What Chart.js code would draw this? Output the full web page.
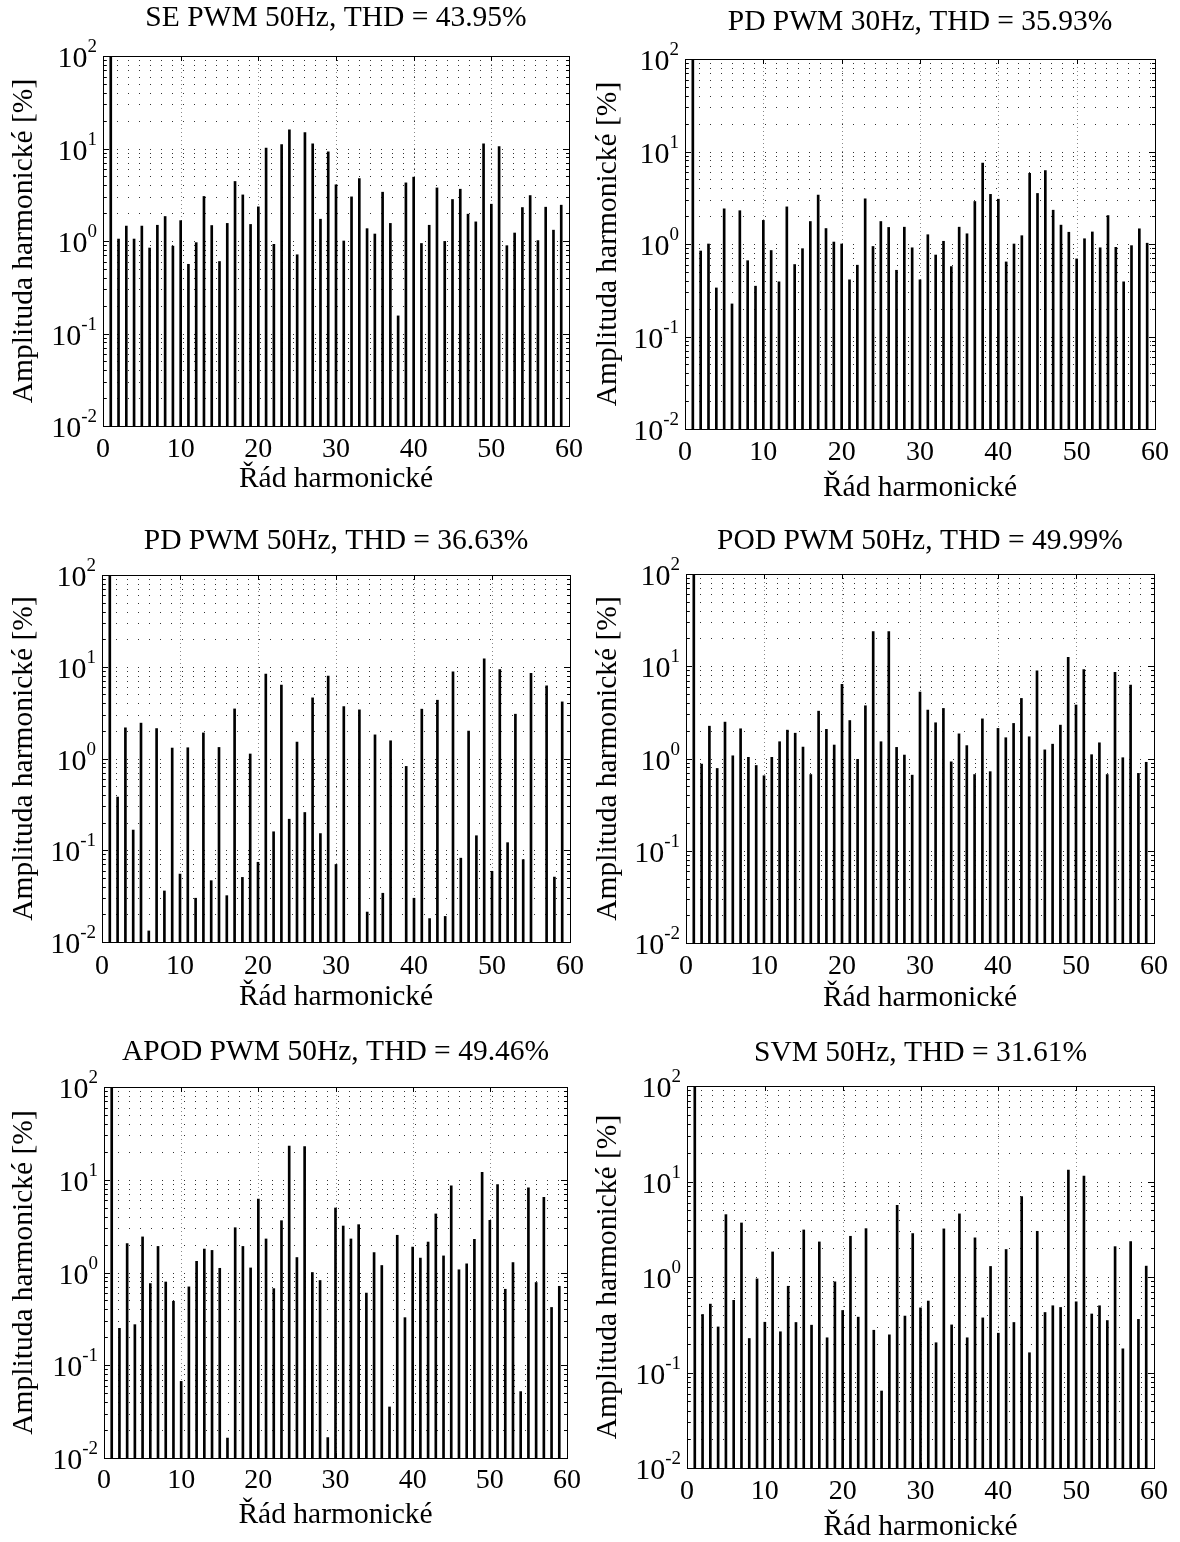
<!DOCTYPE html>
<html>
<head>
<meta charset="utf-8">
<title>Spektrum harmonických</title>
<script src="https://cdn.jsdelivr.net/npm/chart.js@4.4.0/dist/chart.umd.min.js"></script>
<style>
  html, body { margin: 0; padding: 0; background: #fff; }
  #page { position: relative; width: 1180px; height: 1542px; overflow: hidden; }
  .cell { position: absolute; width: 590px; height: 514px; }
  .cell canvas { display: block; }
</style>
</head>
<body>
<div id="page">
  <div class="cell" style="left:0;top:0"><canvas id="c0" width="590" height="514"></canvas></div>
  <div class="cell" style="left:590px;top:0"><canvas id="c1" width="590" height="514"></canvas></div>
  <div class="cell" style="left:0;top:514px"><canvas id="c2" width="590" height="514"></canvas></div>
  <div class="cell" style="left:590px;top:514px"><canvas id="c3" width="590" height="514"></canvas></div>
  <div class="cell" style="left:0;top:1028px"><canvas id="c4" width="590" height="514"></canvas></div>
  <div class="cell" style="left:590px;top:1028px"><canvas id="c5" width="590" height="514"></canvas></div>
</div>
<script>
// Harmonic orders (1 = fundamental)
const harmonics = [
  1, 2, 3, 4, 5, 6, 7, 8, 9, 10,
  11, 12, 13, 14, 15, 16, 17, 18, 19, 20,
  21, 22, 23, 24, 25, 26, 27, 28, 29, 30,
  31, 32, 33, 34, 35, 36, 37, 38, 39, 40,
  41, 42, 43, 44, 45, 46, 47, 48, 49, 50,
  51, 52, 53, 54, 55, 56, 57, 58, 59
];

// Harmonic amplitudes in % of the fundamental
const sePwm50 = [
  100, 1.05, 1.45, 1.05, 1.45, 0.84, 1.48, 1.84, 0.88, 1.66,
  0.56, 0.96, 3.03, 1.47, 0.60, 1.55, 4.4, 3.15, 1.51, 2.34,
  10.1, 0.92, 11.0, 15.9, 0.71, 14.9, 11.2, 1.72, 9.2, 4.05,
  1.0, 3.0, 4.73, 1.36, 1.19, 3.37, 1.55, 0.155, 4.25, 4.9,
  0.94, 1.48, 3.75, 0.99, 2.81, 3.63, 1.95, 1.61, 11.2, 2.5,
  10.5, 0.89, 1.22, 2.3, 3.1, 1.01, 2.32, 1.31, 2.44
];
const pdPwm30 = [
  100, 0.84, 1.0, 0.335, 2.4, 0.225, 2.29, 0.66, 0.35, 1.8,
  0.85, 0.39, 2.52, 0.60, 0.89, 1.75, 3.38, 1.47, 1.05, 1.0,
  0.41, 0.59, 3.08, 0.94, 1.75, 1.51, 0.52, 1.52, 0.91, 0.41,
  1.26, 0.76, 1.07, 0.57, 1.52, 1.29, 2.88, 7.5, 3.44, 3.05,
  0.64, 1.0, 1.23, 5.8, 3.52, 6.2, 2.32, 1.6, 1.34, 0.69,
  1.14, 1.35, 0.91, 2.03, 0.92, 0.39, 0.96, 1.46, 1.02
];
const pdPwm50 = [
  100, 0.38, 2.16, 0.166, 2.43, 0.0132, 2.12, 0.036, 1.30, 0.055,
  1.31, 0.030, 1.90, 0.0466, 1.32, 0.032, 3.47, 0.0506, 1.12, 0.074,
  8.3, 0.159, 6.3, 0.218, 1.51, 0.258, 4.58, 0.152, 7.9, 0.070,
  3.68, null, 3.39, 0.0212, 1.81, 0.034, 1.56, null, 0.82, 0.030,
  3.45, 0.018, 4.32, 0.019, 8.8, 0.082, 1.99, 0.144, 12.2, 0.059,
  9.3, 0.121, 3.04, 0.079, 8.5, null, 6.2, 0.051, 4.14
];
const podPwm50 = [
  100, 0.87, 2.24, 0.78, 2.48, 1.07, 2.1, 1.03, 0.84, 0.65,
  1.03, 1.52, 2.03, 1.88, 1.33, 0.67, 3.26, 2.07, 1.4, 6.35,
  2.58, 0.98, 3.73, 23.7, 1.52, 23.7, 1.32, 1.09, 0.66, 5.25,
  3.35, 2.44, 3.49, 0.92, 1.85, 1.38, 0.67, 2.69, 0.72, 2.12,
  1.68, 2.4, 4.48, 1.72, 8.9, 1.24, 1.43, 2.3, 12.5, 3.8,
  9.2, 1.1, 1.48, 0.67, 8.6, 1.02, 6.25, 0.69, 0.91
];
const apodPwm50 = [
  100, 0.25, 2.05, 0.274, 2.42, 0.76, 1.91, 0.79, 0.49, 0.067,
  0.70, 1.32, 1.79, 1.73, 1.11, 0.0164, 3.04, 1.91, 1.12, 6.2,
  2.3, 0.67, 3.62, 23.1, 1.45, 22.8, 1.0, 0.82, 0.0166, 4.96,
  3.17, 2.3, 3.28, 0.60, 1.64, 1.19, 0.0355, 2.52, 0.326, 1.88,
  1.43, 2.13, 4.28, 1.51, 8.6, 1.07, 1.24, 2.28, 12.0, 3.65,
  8.85, 0.66, 1.28, 0.052, 8.2, 0.78, 6.45, 0.42, 0.71
];
const svm50 = [
  100, 0.405, 0.52, 0.30, 4.5, 0.57, 3.68, 0.227, 0.955, 0.336,
  1.83, 0.267, 0.80, 0.334, 3.11, 0.313, 2.33, 0.231, 0.89, 0.446,
  2.67, 0.38, 3.21, 0.277, 0.064, 0.248, 5.64, 0.39, 2.85, 0.475,
  0.56, 0.205, 3.19, 0.315, 4.58, 0.231, 2.57, 0.373, 1.29, 0.258,
  1.94, 0.334, 6.95, 0.161, 3.01, 0.425, 0.50, 0.48, 13.2, 0.55,
  11.4, 0.41, 0.50, 0.35, 2.08, 0.177, 2.35, 0.36, 1.30
];

const titles = [
  'SE PWM 50Hz, THD = 43.95%',
  'PD PWM 30Hz, THD = 35.93%',
  'PD PWM 50Hz, THD = 36.63%',
  'POD PWM 50Hz, THD = 49.99%',
  'APOD PWM 50Hz, THD = 49.46%',
  'SVM 50Hz, THD = 31.61%'
];
const seriesList = [sePwm50, pdPwm30, pdPwm50, podPwm50, apodPwm50, svm50];

// Axis ticks
const xTickValues = [0, 10, 20, 30, 40, 50, 60];
const yDecadeExponents = [-2, -1, 0, 1, 2];
const xAxisTitle = 'Řád harmonické';
const yAxisTitle = 'Amplituda harmonické [%]';

// Panel geometry in page pixels: cell origin, plot rectangle, text rows
const panelLayout = [
  { cell: [0, 0],      plot: [103, 56, 569, 426],    titleY: 18,   tickY: 450,  xLabelY: 479,  yLabelX: 24 },
  { cell: [590, 0],    plot: [685, 59, 1155, 429],   titleY: 22,   tickY: 453,  xLabelY: 488,  yLabelX: 608 },
  { cell: [0, 514],    plot: [102, 575, 570, 942],   titleY: 541,  tickY: 967,  xLabelY: 997,  yLabelX: 24 },
  { cell: [590, 514],  plot: [686, 574, 1154, 943],  titleY: 541,  tickY: 967,  xLabelY: 998,  yLabelX: 608 },
  { cell: [0, 1028],   plot: [104, 1087, 567, 1458], titleY: 1052, tickY: 1481, xLabelY: 1515, yLabelX: 24 },
  { cell: [590, 1028], plot: [687, 1086, 1154, 1468],titleY: 1053, tickY: 1492, xLabelY: 1527, yLabelX: 608 }
];

const FONT = '"Liberation Serif", "Times New Roman", "DejaVu Serif", serif';
const CELL_W = 590, CELL_H = 514;

// MATLAB-style frame: dotted grid, inward ticks, superscripted log labels
function matlabAxes(panel, heading) {
  const ox = panel.cell[0], oy = panel.cell[1];
  return {
    id: 'matlabAxes',
    beforeDatasetsDraw(chart) {
      const { ctx, chartArea: a, scales: { x, y } } = chart;
      ctx.save();
      ctx.lineWidth = 1;
      // horizontal log grid (major + minor)
      ctx.strokeStyle = '#333';
      ctx.setLineDash([1, 10]);
      ctx.lineDashOffset = -3;
      for (let d = -2; d <= 1; d++) {
        for (let m = 1; m <= 9; m++) {
          const py = Math.round(y.getPixelForValue(m * Math.pow(10, d))) + 0.5;
          if (py <= a.top + 1 || py >= a.bottom - 1) continue;
          ctx.beginPath();
          ctx.moveTo(a.left, py);
          ctx.lineTo(a.right, py);
          ctx.stroke();
        }
      }
      // vertical grid at the labelled orders
      ctx.strokeStyle = '#888';
      ctx.setLineDash([1, 3]);
      ctx.lineDashOffset = 0;
      for (const v of xTickValues) {
        const px = Math.round(x.getPixelForValue(v)) + 0.5;
        if (px <= a.left + 1 || px >= a.right - 1) continue;
        ctx.beginPath();
        ctx.moveTo(px, a.top);
        ctx.lineTo(px, a.bottom);
        ctx.stroke();
      }
      ctx.restore();
    },
    afterDatasetsDraw(chart) {
      const { ctx, chartArea: a, scales: { x, y } } = chart;
      ctx.save();
      ctx.strokeStyle = '#000';
      ctx.lineWidth = 1;
      ctx.setLineDash([]);
      ctx.strokeRect(Math.round(a.left) + 0.5, Math.round(a.top) + 0.5,
                     Math.round(a.right - a.left), Math.round(a.bottom - a.top));
      // x ticks, top and bottom, pointing inward
      ctx.beginPath();
      for (const v of xTickValues) {
        const px = Math.round(x.getPixelForValue(v)) + 0.5;
        ctx.moveTo(px, a.bottom); ctx.lineTo(px, a.bottom - 5);
        ctx.moveTo(px, a.top); ctx.lineTo(px, a.top + 5);
      }
      // y ticks: decades long, minor short
      for (let d = -2; d <= 2; d++) {
        for (let m = 1; m <= 9; m++) {
          if (d === 2 && m > 1) break;
          const py = Math.round(y.getPixelForValue(m * Math.pow(10, d))) + 0.5;
          const len = m === 1 ? 6 : 3;
          ctx.moveTo(a.left, py); ctx.lineTo(a.left + len, py);
          ctx.moveTo(a.right, py); ctx.lineTo(a.right - len, py);
        }
      }
      ctx.stroke();

      ctx.fillStyle = '#000';
      // x tick labels
      ctx.font = '28px ' + FONT;
      ctx.textAlign = 'center';
      ctx.textBaseline = 'middle';
      for (const v of xTickValues) {
        ctx.fillText(String(v), x.getPixelForValue(v), panel.tickY - oy);
      }
      // y tick labels 10^n
      for (const e of yDecadeExponents) {
        const py = y.getPixelForValue(Math.pow(10, e));
        const rightEdge = a.left - 6;
        ctx.font = '19px ' + FONT;
        const expText = e < 0 ? '-' + Math.abs(e) : String(e);
        const expW = ctx.measureText(expText).width;
        ctx.textAlign = 'left';
        ctx.textBaseline = 'alphabetic';
        ctx.fillText(expText, rightEdge - expW, py - 4);
        ctx.font = '30px ' + FONT;
        ctx.textAlign = 'right';
        ctx.fillText('10', rightEdge - expW, py + 11);
      }
      // panel title and axis titles
      ctx.font = '29.5px ' + FONT;
      ctx.textAlign = 'center';
      ctx.textBaseline = 'middle';
      const cx = (a.left + a.right) / 2;
      ctx.fillText(heading, cx, panel.titleY - oy);
      ctx.fillText(xAxisTitle, cx, panel.xLabelY - oy);
      ctx.save();
      ctx.translate(panel.yLabelX - ox, (a.top + a.bottom) / 2);
      ctx.rotate(-Math.PI / 2);
      ctx.fillText(yAxisTitle, 0, 0);
      ctx.restore();
      ctx.restore();
    }
  };
}

panelLayout.forEach((p, i) => {
  const [ox, oy] = p.cell;
  const [x0, y0, x1, y1] = p.plot;
  const values = seriesList[i];
  new Chart(document.getElementById('c' + i), {
    type: 'bar',
    data: {
      datasets: [{
        data: harmonics.map((h, k) => ({ x: h, y: values[k] })),
        backgroundColor: '#000',
        borderWidth: 0,
        barThickness: 2
      }]
    },
    options: {
      responsive: false,
      animation: false,
      events: [],
      layout: { padding: { left: x0 - ox, top: y0 - oy, right: ox + CELL_W - x1, bottom: oy + CELL_H - y1 } },
      scales: {
        x: { type: 'linear', min: 0, max: 60, offset: false, display: false, grid: { offset: false } },
        y: { type: 'logarithmic', min: 0.01, max: 100, display: false }
      },
      plugins: {
        legend: { display: false },
        tooltip: { enabled: false },
        title: { display: false }
      }
    },
    plugins: [matlabAxes(p, titles[i])]
  });
});
</script>
</body>
</html>
